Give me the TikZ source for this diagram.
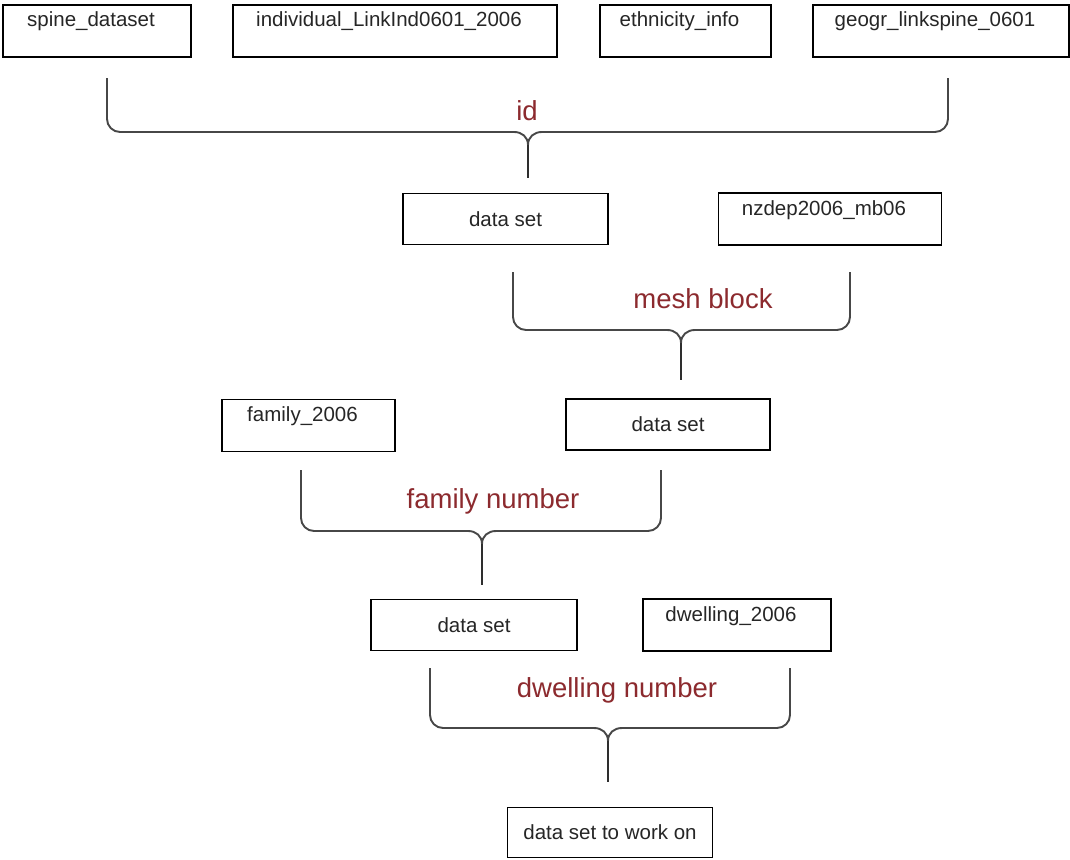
\documentclass[tikz,border=0pt]{standalone}
\usepackage{fontspec}
\setmainfont{Liberation Sans}
\usepackage{xcolor}
\usepackage{tikz}
\definecolor{keyred}{RGB}{140,42,46}

\begin{document}
\begin{tikzpicture}
   [
   x=1pt, y=-1pt,
   namebox/.style={rectangle, draw=black, fill=white, line width=1.2pt, inner xsep=0pt, inner ysep=7pt, text height=15pt, text depth=23pt, minimum height=52pt, text=black!85, font=\fontsize{20.5}{24}\selectfont, execute at end node={\hspace{12pt}}},
   databox/.style={rectangle, draw=black, fill=white, line width=1.2pt, minimum height=51pt, text=black!85, font=\fontsize{20.5}{24}\selectfont},
   keylabel/.style={anchor=base, text=keyred, font=\fontsize{27.5}{30}\selectfont},
   brace/.style={draw=black!72, line width=1.9pt},
   stem/.style={draw=black!82, line width=2.6pt},
   ]
 \fill[white] (0,0) rectangle (1070,859);
 \useasboundingbox (0,0) rectangle (1070,859);
 % source tables
 \node at (97,31) [namebox, minimum width=188pt] (spine) {spine\_dataset};
 \node at (395,31) [namebox, minimum width=324pt] (indiv) {individual\_LinkInd0601\_2006};
 \node at (685.5,31) [namebox, minimum width=171pt] (ethn) {ethnicity\_info};
 \node at (941,31) [namebox, minimum width=256pt] (geogr) {geogr\_linkspine\_0601};
 % join on id
 \coordinate (idL) at (107,78);
 \coordinate (idR) at (948,78);
 \coordinate (idA) at (514,132);
 \coordinate (idB) at (542,132);
 \coordinate (idS) at (528,145);
 \coordinate (idE) at (528,178);
 \draw[brace, rounded corners=13pt] (idL) |- (idA);
 \draw[brace] (idA) .. controls (522,132) and (528,137) .. (idS) .. controls (528,137) and (534,132) .. (idB);
 \draw[brace, rounded corners=13pt] (idB) -| (idR);
 \draw[stem] (idS) -- (idE);
 \node at (527,120) [keylabel] (idlab) {id};
 \node at (505.5,219) [databox, minimum width=205pt] (set1) {data set};
 \node at (830,219) [namebox, minimum width=223pt] (nzdep) {nzdep2006\_mb06};
 % join on mesh block
 \coordinate (mbL) at (513,272);
 \coordinate (mbR) at (850,272);
 \coordinate (mbA) at (667,330);
 \coordinate (mbB) at (695,330);
 \coordinate (mbS) at (681,343);
 \coordinate (mbE) at (681,380);
 \draw[brace, rounded corners=13pt] (mbL) |- (mbA);
 \draw[brace] (mbA) .. controls (675,330) and (681,335) .. (mbS) .. controls (681,335) and (687,330) .. (mbB);
 \draw[brace, rounded corners=13pt] (mbB) -| (mbR);
 \draw[stem] (mbS) -- (mbE);
 \node at (703,308) [keylabel] (mblab) {mesh block};
 \node at (308.5,425.5) [namebox, minimum width=173pt] (fam) {family\_2006};
 \node at (668,424.5) [databox, minimum width=204pt] (set2) {data set};
 % join on family number
 \coordinate (fnL) at (301,470);
 \coordinate (fnR) at (661,470);
 \coordinate (fnA) at (468,531);
 \coordinate (fnB) at (496,531);
 \coordinate (fnS) at (482,544);
 \coordinate (fnE) at (482,585);
 \draw[brace, rounded corners=13pt] (fnL) |- (fnA);
 \draw[brace] (fnA) .. controls (476,531) and (482,536) .. (fnS) .. controls (482,536) and (488,531) .. (fnB);
 \draw[brace, rounded corners=13pt] (fnB) -| (fnR);
 \draw[stem] (fnS) -- (fnE);
 \node at (493,508) [keylabel] (fnlab) {family number};
 \node at (474,625) [databox, minimum width=206pt] (set3) {data set};
 \node at (737,625) [namebox, minimum width=188pt] (dwell) {dwelling\_2006};
 % join on dwelling number
 \coordinate (dnL) at (430,668);
 \coordinate (dnR) at (790,668);
 \coordinate (dnA) at (594,728);
 \coordinate (dnB) at (622,728);
 \coordinate (dnS) at (608,741);
 \coordinate (dnE) at (608,782);
 \draw[brace, rounded corners=13pt] (dnL) |- (dnA);
 \draw[brace] (dnA) .. controls (602,728) and (608,733) .. (dnS) .. controls (608,733) and (614,728) .. (dnB);
 \draw[brace, rounded corners=13pt] (dnB) -| (dnR);
 \draw[stem] (dnS) -- (dnE);
 \node at (617,697) [keylabel] (dnlab) {dwelling number};
 \node at (610,832.5) [databox, minimum width=205pt, minimum height=50pt] (final) {data set to work on};
\end{tikzpicture}
\end{document}
